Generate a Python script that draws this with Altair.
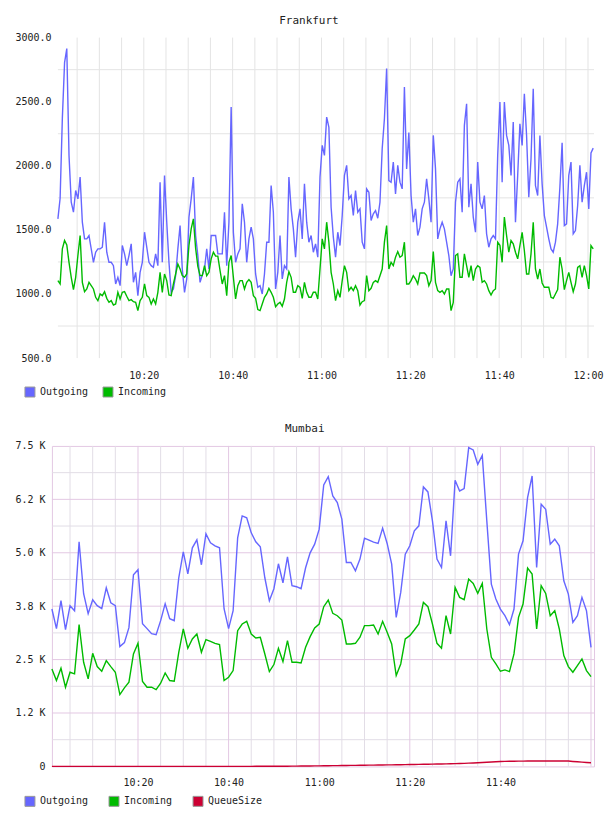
import altair as alt
import pandas as pd

FONT = "DejaVu Sans Mono"
BLUE = "#6666ff"
GREEN = "#00bb00"
RED = "#cc0033"
TEXT = "#222222"
GRID = "#e4e4e4"
MINOR = "#e2dde6"
MAJOR = "#e3c8e3"

# ---- Frankfurt: 30-second samples from 10:00:40 ----
fra_outgoing = [
    1586, 1747, 2370, 2805, 2914, 2080, 1716, 1638, 1807, 1742,
    1912, 1560, 1430, 1430, 1456, 1352, 1247, 1326, 1352, 1352,
    1365, 1560, 1326, 1247, 1247, 1221, 1078, 1130, 1065, 1378,
    1313, 1221, 1300, 1391, 1091, 1169, 987, 1169, 1247, 1482,
    1365, 1247, 1221, 1208, 1313, 1221, 1872, 1247, 1925, 1560,
    1247, 1013, 1039, 1143, 1352, 1534, 1195, 1013, 1117, 1599,
    1742, 1912, 1456, 1300, 1091, 1148, 1195, 1352, 1195, 1456,
    1456, 1456, 1313, 1313, 1313, 1638, 1221, 1560, 2458, 1482,
    1247, 1313, 1352, 1703, 1560, 1247, 1430, 1521, 1430, 1156,
    1052, 1065, 1000, 1156, 1404, 1404, 1846, 1638, 1039, 1169,
    1456, 1117, 1221, 1195, 1912, 1664, 1508, 1287, 1560, 1664,
    1430, 1860, 1560, 1404, 1456, 1326, 1391, 1287, 1912, 2159,
    2081, 2380, 2300, 1677, 1443, 1287, 1482, 1378, 1612, 1925,
    2003, 1742, 1768, 1612, 1807, 1638, 1664, 1404, 1352, 1820,
    1794, 1573, 1625, 1651, 1591, 1716, 2133, 2367, 2758, 1885,
    1872, 2029, 1781, 2003, 1872, 1820, 2615, 1976, 2260, 1768,
    1560, 1664, 1456, 1521, 1664, 1716, 1898, 1742, 1560, 2237,
    1976, 1430, 1508, 1560, 1508, 1404, 1300, 1143, 1195, 1716,
    1872, 1898, 1638, 2315, 2484, 1677, 1859, 1599, 1482, 2029,
    1716, 1664, 1768, 1469, 1365, 1430, 1456, 1430, 2081, 2497,
    1872, 2497, 2237, 2159, 1925, 2341, 1560, 1925, 2328, 2159,
    2562, 2237, 1755, 2055, 2601, 1846, 1768, 2237, 1859, 1612,
    1521, 1430, 1352, 1326, 1404, 1547, 1833, 2180, 1534, 1547,
    1925, 2029, 1469, 1495, 1690, 2003, 1716, 1846, 1950, 1664,
    2100, 2138,
]
fra_incoming = [
    1104, 1078, 1352, 1417, 1383, 1247, 1130, 1034, 1130, 1300,
    1456, 1091, 1018, 1039, 1091, 1065, 1039, 974, 948, 1000,
    987, 1018, 966, 935, 948, 914, 922, 1013, 961, 1013,
    1018, 982, 948, 956, 940, 935, 870, 948, 974, 1078,
    987, 974, 922, 961, 922, 1013, 1169, 1013, 1156, 1104,
    992, 987, 1078, 1156, 1234, 1195, 1143, 1130, 1156, 1378,
    1508, 1586, 1357, 1216, 1143, 1143, 1221, 1143, 1169, 1274,
    1326, 1295, 1295, 1182, 1078, 1143, 987, 1247, 1300, 1130,
    961, 1065, 1104, 1104, 1039, 1091, 1112, 1091, 987, 966,
    878, 870, 922, 974, 1000, 1044, 1013, 974, 901, 922,
    935, 904, 961, 1091, 1174, 1130, 1013, 1013, 1065, 1052,
    966, 1091, 1013, 974, 974, 1013, 1013, 961, 1195, 1430,
    1352, 1560, 1404, 1169, 1078, 948, 1026, 974, 1104, 1221,
    1169, 1026, 1052, 1026, 1065, 1026, 914, 940, 948, 1143,
    1026, 1044, 1091, 1104, 1091, 1143, 1195, 1404, 1534, 1195,
    1247, 1221, 1287, 1331, 1287, 1300, 1404, 1078, 1078, 1104,
    1143, 1117, 1078, 1164, 1164, 1164, 1143, 1065, 1104, 1331,
    1091, 1026, 1013, 1026, 1000, 1039, 1039, 870, 935, 1300,
    1313, 1130, 1130, 1313, 1221, 1130, 1221, 1104, 1195, 1221,
    1208, 1091, 1104, 1078, 1026, 992, 1026, 1039, 1404, 1380,
    1247, 1600, 1456, 1326, 1417, 1391, 1326, 1274, 1378, 1480,
    1339, 1156, 1156, 1313, 1560, 1195, 1117, 1195, 1086, 1052,
    1052, 1052, 974, 966, 1000, 1034, 1287, 1195, 1034, 1104,
    1169, 1091, 1018, 1078, 1208, 1221, 1130, 1221, 1143, 1039,
    1378, 1352,
]

# ---- Mumbai: one sample per minute from 10:01 ----
mum_outgoing = [
    3684, 3224, 3878, 3200, 3761, 3644, 5256, 4041, 3574, 3901,
    3761, 3691, 4181, 3831, 3761, 2803, 2897, 3247, 4485, 4602,
    3340, 3224, 3107, 3083, 3411, 3808, 3457, 3411, 4415, 5022,
    4508, 5116, 5303, 4719, 5443, 5233, 5163, 5116, 3691, 3224,
    3644, 5349, 5863, 5817, 5466, 5256, 5139, 4415, 3878, 4158,
    4742, 4298, 4906, 4228, 4205, 4158, 4649, 4999, 5202, 5552,
    6588, 6782, 6331, 6175, 5786, 4773, 4773, 4579, 4851, 5342,
    5295, 5249, 5218, 5576, 5218, 4734, 3488, 4072, 4968, 5163,
    5513, 5630, 6541, 6424, 5747, 4851, 4656, 5747, 4929, 6697,
    6447, 6502, 7460, 7405, 7070, 7280, 5747, 4267, 3917, 3683,
    3527, 3317, 3683, 4968, 5279, 6292, 6798, 4656, 6136, 6019,
    5202, 5318, 5163, 4345, 4033, 3372, 3527, 3956, 3644, 2787,
]
mum_incoming = [
    2281, 2009, 2297, 1853, 2204, 2165, 3317, 2437, 2048, 2648,
    2336, 2227, 2476, 2336, 2204, 1682, 1838, 1970, 2632, 2881,
    1986, 1853, 1853, 1799, 1947, 2188, 2009, 1993, 2671, 3216,
    2765, 2982, 3099, 2671, 2967, 2928, 2881, 2850, 2009, 2087,
    2243, 3177, 3333, 3395, 3099, 3006, 3022, 2632, 2219, 2383,
    2765, 2453, 2943, 2437, 2437, 2422, 2788, 3037, 3240, 3333,
    3738, 3894, 3582, 3527, 3426, 2866, 2866, 2881, 3022, 3294,
    3294, 3309, 3099, 3395, 3138, 2866, 2126, 2398, 2982, 3060,
    3192, 3333, 3839, 3738, 3333, 2881, 2765, 3527, 3099, 4189,
    3956, 3901, 4384, 4283, 4049, 4283, 3216, 2554, 2398, 2227,
    2258, 2219, 2632, 3488, 3800, 4641, 4501, 3216, 4228, 4049,
    3527, 3644, 3216, 2593, 2336, 2204, 2359, 2515, 2243, 2102,
]
mum_queue = [
    0, 0, 0, 0, 0, 0, 0, 0, 0, 0,
    0, 0, 0, 0, 0, 0, 0, 0, 0, 0,
    0, 0, 0, 0, 0, 0, 0, 0, 0, 0,
    0, 0, 0, 0, 0, 0, 0, 0, 0, 0,
    0, 0, 0, 0, 0, 2, 4, 5, 5, 4,
    4, 4, 5, 6, 7, 8, 9, 10, 12, 13,
    15, 16, 18, 19, 21, 22, 24, 25, 27, 28,
    30, 31, 32, 33, 35, 36, 38, 39, 41, 43,
    45, 47, 49, 51, 54, 56, 58, 60, 62, 65,
    68, 72, 76, 80, 85, 90, 96, 102, 108, 114,
    117, 120, 122, 123, 124, 125, 125, 126, 126, 126,
    126, 126, 127, 127, 125, 116, 108, 100, 93, 86,
]

fra_series = ["Outgoing", "Incoming"]
fra_colors = [BLUE, GREEN]
mum_series = ["Outgoing", "Incoming", "QueueSize"]
mum_colors = [BLUE, GREEN, RED]

fra_y_ticks = [500, 1000, 1500, 2000, 2500, 3000]
fra_y_grid = [750, 1250, 1750, 2250, 2750]
mum_y_ticks = [0, 1250, 2500, 3750, 5000, 6250, 7500]
mum_y_labels = ["0", "1.2 K", "2.5 K", "3.8 K", "5.0 K", "6.2 K", "7.5 K"]
mum_y_major = [1250, 2500, 3750, 5000, 6250]
mum_y_minor = [625, 1875, 3125, 4375, 5625, 6875]

DAY = "2024-01-01"
CHAR_W = 6.02  # advance of the 10px monospace font


def ts(hms):
    return pd.Timestamp(f"{DAY} {hms}")


def dt(h, m, s=0):
    return alt.DateTime(year=2024, month=1, date=1, hours=h, minutes=m, seconds=s)


def legend_layers(names, colors, left, y):
    """Row of boxed colour swatches with labels, laid out below the plot."""
    pitch = 10 + 5 + max(len(s) for s in names) * CHAR_W + 15
    layers = []
    for k, (name, col) in enumerate(zip(names, colors)):
        x0 = left + k * pitch
        item = pd.DataFrame({"series": [name]})
        layers.append(
            alt.Chart(item).mark_square(size=100, fill=col, stroke="#999999", strokeWidth=1, opacity=1)
            .encode(x=alt.value(x0 + 5), y=alt.value(y))
        )
        layers.append(
            alt.Chart(item).mark_text(align="left", baseline="middle", font=FONT, fontSize=10, color=TEXT)
            .encode(x=alt.value(x0 + 15), y=alt.value(y), text="series:N")
        )
    return layers


# ---------------- Frankfurt panel ----------------
fra_times = pd.date_range(ts("10:00:40"), periods=len(fra_outgoing), freq="30s")
fra_df = pd.DataFrame({
    "time": list(fra_times) * 2,
    "series": ["Outgoing"] * len(fra_outgoing) + ["Incoming"] * len(fra_incoming),
    "value": fra_outgoing + fra_incoming,
})
fra_start, fra_end = ts("10:00:40"), ts("12:01:21")
fra_x_scale = alt.Scale(domain=[dt(10, 0, 40), dt(12, 1, 21)], range=[6, 543])
fra_y_scale = alt.Scale(domain=[500, 3000])

fra_vgrid = pd.DataFrame({"t": pd.date_range(ts("10:05"), ts("12:00"), freq="5min")})
fra_hgrid = pd.DataFrame({"v": fra_y_grid, "a": fra_start, "b": fra_end})

fra_vrules = alt.Chart(fra_vgrid).mark_rule(color=GRID, strokeWidth=1).encode(
    x=alt.X("t:T", scale=fra_x_scale, title=None)
)
fra_hrules = alt.Chart(fra_hgrid).mark_rule(color=GRID, strokeWidth=1).encode(
    y=alt.Y("v:Q", scale=fra_y_scale, title=None),
    x=alt.X("a:T", scale=fra_x_scale, title=None),
    x2="b:T",
)
fra_lines = alt.Chart(fra_df).mark_line(strokeWidth=1.4).encode(
    x=alt.X("time:T", scale=fra_x_scale, title=None,
            axis=alt.Axis(values=[dt(10, 20), dt(10, 40), dt(11, 0), dt(11, 20), dt(11, 40), dt(12, 0)],
                          format="%H:%M", grid=False, ticks=False, domain=False,
                          labelPadding=12)),
    y=alt.Y("value:Q", scale=fra_y_scale, title=None,
            axis=alt.Axis(values=fra_y_ticks, format=".1f", grid=False, ticks=False,
                          domain=False, labelPadding=1)),
    color=alt.Color("series:N", scale=alt.Scale(domain=fra_series, range=fra_colors), legend=None),
)
frankfurt = alt.layer(
    fra_vrules, fra_hrules, fra_lines, *legend_layers(fra_series, fra_colors, -27, 355)
).properties(
    width=543, height=321,
    title=alt.TitleParams("Frankfurt", font=FONT, fontSize=11, fontWeight="normal", color=TEXT,
                          anchor="middle", frame="bounds", offset=7),
)

# ---------------- Mumbai panel ----------------
mum_times = pd.date_range(ts("10:01"), periods=len(mum_outgoing), freq="1min")
n = len(mum_outgoing)
mum_df = pd.DataFrame({
    "time": list(mum_times) * 3,
    "series": ["Outgoing"] * n + ["Incoming"] * n + ["QueueSize"] * n,
    "value": mum_outgoing + mum_incoming + mum_queue,
})
mum_x_scale = alt.Scale(domain=[dt(10, 1), dt(12, 0, 40)])
mum_y_scale = alt.Scale(domain=[0, 7500])

five = pd.date_range(ts("10:05"), ts("12:00"), freq="5min")
mum_vminor = pd.DataFrame({"t": [t for t in five if t.minute % 20 != 0]})
mum_vmajor = pd.DataFrame({"t": [t for t in five if t.minute % 20 == 0]})

label_expr = " : ".join(
    f"datum.value == {v} ? '{s}'" for v, s in zip(mum_y_ticks, mum_y_labels)
) + " : ''"

mum_minor_v = alt.Chart(mum_vminor).mark_rule(color=MINOR).encode(
    x=alt.X("t:T", scale=mum_x_scale, title=None))
mum_minor_h = alt.Chart(pd.DataFrame({"v": mum_y_minor})).mark_rule(color=MINOR).encode(
    y=alt.Y("v:Q", scale=mum_y_scale, title=None))
mum_major_v = alt.Chart(mum_vmajor).mark_rule(color=MAJOR).encode(
    x=alt.X("t:T", scale=mum_x_scale, title=None))
mum_major_h = alt.Chart(pd.DataFrame({"v": mum_y_major})).mark_rule(color=MAJOR).encode(
    y=alt.Y("v:Q", scale=mum_y_scale, title=None))

mum_lines = alt.Chart(mum_df).mark_line(strokeWidth=1.4).encode(
    x=alt.X("time:T", scale=mum_x_scale, title=None,
            axis=alt.Axis(values=[dt(10, 20), dt(10, 40), dt(11, 0), dt(11, 20), dt(11, 40)],
                          format="%H:%M", grid=False, ticks=False, domain=False,
                          labelPadding=11)),
    y=alt.Y("value:Q", scale=mum_y_scale, title=None,
            axis=alt.Axis(values=mum_y_ticks, labelExpr=label_expr, grid=False, ticks=False,
                          domain=False, labelPadding=7)),
    color=alt.Color("series:N", scale=alt.Scale(domain=mum_series, range=mum_colors), legend=None),
)
mumbai = alt.layer(
    mum_minor_v, mum_minor_h, mum_major_v, mum_major_h, mum_lines,
    *legend_layers(mum_series, mum_colors, -27, 356)
).properties(
    width=543, height=321,
    view=alt.ViewBackground(stroke=MAJOR, strokeWidth=1),
    title=alt.TitleParams("Mumbai", font=FONT, fontSize=11, fontWeight="normal", color=TEXT,
                          anchor="middle", frame="bounds", offset=7),
)

chart = (
    alt.vconcat(frankfurt, mumbai, spacing=23)
    .resolve_scale(x="independent", y="independent", color="independent")
    .properties(padding={"left": 14, "top": 14, "right": 4, "bottom": 4}, background="white")
    .configure_view(stroke=None)
    .configure_axis(labelFont=FONT, labelFontSize=10, labelColor=TEXT)
)

chart.save("out.html", embed_options={"renderer": "svg", "actions": False})
